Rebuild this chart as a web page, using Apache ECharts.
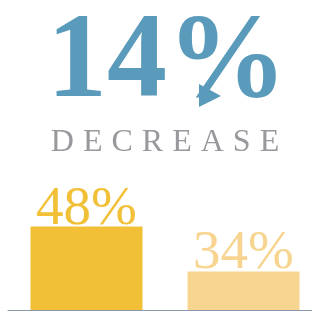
<!DOCTYPE html>
<html><head><meta charset="utf-8">
<script src="https://cdn.jsdelivr.net/npm/echarts@6/dist/echarts.min.js"></script>
<style>html,body{margin:0;padding:0;background:#fff}#c{width:312px;height:311px}</style>
</head><body><div id="c"></div>
<script>
const categories = ['Before', 'After'];
const values = [48, 34];
const barColors = ['#f2c037', '#f7d591'];
const headline = '14%';
const subline = 'DECREASE';

const chart = echarts.init(document.getElementById('c'), null, {renderer: 'canvas'});
const subRich = subline.split('').map(ch => '{l|' + ch + '}').join('');
chart.setOption({
  animation: false,
  grid: {left: 8, width: 314, top: 2, bottom: 1, containLabel: false, outerBoundsMode: 'none'},
  xAxis: {
    type: 'category', data: categories,
    axisLine: {show: true, lineStyle: {color: '#8899ad', width: 1}},
    axisTick: {show: false}, axisLabel: {show: false}, splitLine: {show: false}
  },
  yAxis: {type: 'value', min: 22, max: 118, show: false, splitLine: {show: false}},
  series: [{
    type: 'bar', barWidth: 112, z: 1,
    data: values.map((v, i) => ({value: v, itemStyle: {color: barColors[i]}, label: {color: barColors[i]}})),
    label: {
      show: true, position: 'top', distance: -10,
      formatter: '{c}%', fontFamily: 'Liberation Serif', fontSize: 55, lineHeight: 55
    }
  }],
  graphic: [
    {type: 'text', x: 167, y: 5, style: {
      text: headline, fontFamily: 'Liberation Serif', fontWeight: 'bold', fontSize: 120, fill: '#5a9bbb',
      align: 'center', verticalAlign: 'top'
    }},
    {type: 'polygon', shape: {points: [[199, 107], [199, 84], [221, 96]]}, style: {fill: '#5a9bbb'}},
    {type: 'text', x: 165, y: 127, style: {
      text: subRich, fontFamily: 'Liberation Serif', fontSize: 32, fill: '#98989d',
      align: 'center', verticalAlign: 'top',
      rich: {l: {fontFamily: 'Liberation Serif', fontSize: 32, fill: '#98989d', padding: [0, 4.5]}}
    }}
  ]
});
</script></body></html>
